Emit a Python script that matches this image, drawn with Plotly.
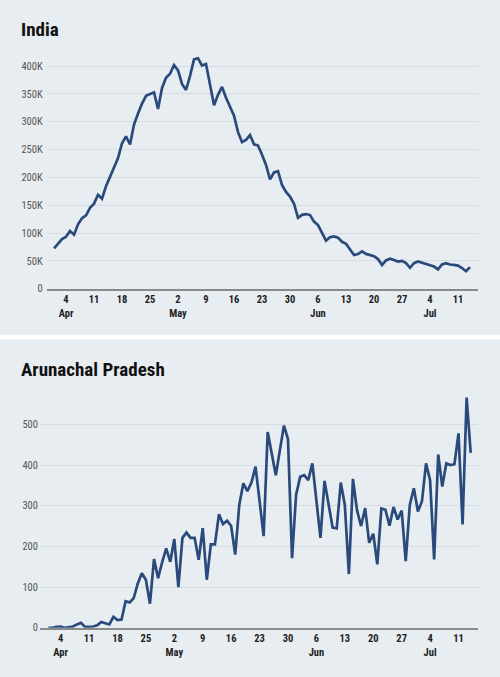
import pandas as pd
import plotly.graph_objs as go

# Tagesdaten 1. April bis 14. Juli 2021
dates = pd.date_range('2021-04-01', '2021-07-14', freq='D')

india_cases = [
    72330, 81466, 89129, 93249, 103558, 96982, 115736, 126789, 131968, 145384,
    152879, 168912, 161736, 184372, 200739, 217353, 234692, 261500, 273810, 259170,
    295041, 314835, 332730, 346786, 349691, 352991, 323144, 360960, 379257, 386452,
    401993, 392488, 368147, 357229, 382315, 412262, 414188, 401078, 403738, 366161,
    329942, 348421, 362727, 343144, 326098, 311170, 281386, 263533, 267334, 276110,
    259551, 257299, 240842, 222315, 196427, 208921, 211298, 186364, 173790, 165553,
    152734,
    127510, 132788, 134154, 132364, 120529, 114460, 100636, 86498, 92596, 94052,
    91702, 84332, 80834, 70421, 60471, 62224, 67208, 62480, 60753, 58419,
    53256, 42640, 50848, 54069, 51667, 48698, 50040, 46148, 37566, 45951,
    48786, 46617, 44111, 43071, 39796, 34703, 43733, 45892, 43393, 42766,
    41506, 37154, 31443, 38792,
]

arunachal_cases = [
    0, 0, 2, 3, 0, 2, 3, 8, 12, 2,
    3, 3, 6, 14, 11, 8, 27, 19, 20, 65,
    62, 73, 109, 134, 118, 59, 169, 122, 161, 195,
    162, 218, 100, 221, 234, 221, 221, 167, 245, 118,
    205, 205, 279, 255, 263, 250, 180, 302, 355, 336,
    357, 396, 312, 225, 481, 428, 375, 436, 497, 464,
    171,
    327, 371, 375, 363, 404, 318, 221, 361, 302, 246,
    244, 357, 302, 132, 366, 289, 250, 294, 209, 231,
    156, 293, 290, 251, 297, 266, 288, 164, 302, 343,
    286, 311, 404, 363, 168, 426, 347, 404, 400, 402,
    478, 254, 566, 430,
]

tick_dates = ['2021-04-04', '2021-04-11', '2021-04-18', '2021-04-25', '2021-05-02',
              '2021-05-09', '2021-05-16', '2021-05-23', '2021-05-30', '2021-06-06',
              '2021-06-13', '2021-06-20', '2021-06-27', '2021-07-04', '2021-07-11']
tick_text = ['4<br>Apr', '11', '18', '25', '2<br>May', '9', '16', '23', '30',
             '6<br>Jun', '13', '20', '27', '4<br>Jul', '11']

india_ticks = [0, 50000, 100000, 150000, 200000, 250000, 300000, 350000, 400000]
india_labels = ['0', '50K', '100K', '150K', '200K', '250K', '300K', '350K', '400K']
arunachal_ticks = [0, 100, 200, 300, 400, 500]

BG = '#e8edf2'
LINE = '#2b4a7c'
GRID = '#d6dce3'
FONT = 'Roboto Condensed, Roboto, sans-serif'

fig = go.Figure()
fig.add_trace(go.Scatter(x=dates, y=india_cases, mode='lines',
                         line=dict(color=LINE, width=2.7), xaxis='x', yaxis='y'))
fig.add_trace(go.Scatter(x=dates, y=arunachal_cases, mode='lines',
                         line=dict(color=LINE, width=2.7), xaxis='x2', yaxis='y2'))

xfont = dict(family=FONT, size=10.5, color='#1e1e1e', weight='bold')
yfont = dict(family=FONT, size=10.5, color='#555555')

# Layout anpassen
fig.update_layout(
    width=500, height=677,
    margin=dict(l=0, r=0, t=0, b=0),
    paper_bgcolor=BG, plot_bgcolor=BG,
    showlegend=False,
    xaxis=dict(domain=[46.7 / 500, 478 / 500], anchor='y', type='date',
               range=['2021-03-30 04:00', '2021-07-16 00:00'],
               tickvals=tick_dates, ticktext=tick_text, ticks='',
               showgrid=False, showline=True, linecolor='#8a8a8a', linewidth=1.5,
               tickfont=xfont),
    yaxis=dict(domain=[(677 - 291.7) / 677, (677 - 50) / 677], anchor='x',
               range=[0, 430000], tickvals=india_ticks, ticktext=india_labels,
               showgrid=True, gridcolor=GRID, gridwidth=1.2, zeroline=False,
               ticks='', tickfont=yfont, ticklabelstandoff=3),
    xaxis2=dict(domain=[40 / 500, 478.3 / 500], anchor='y2', type='date',
                range=['2021-03-29 22:00', '2021-07-15 21:00'],
                tickvals=tick_dates, ticktext=tick_text, ticks='',
                showgrid=False, showline=True, linecolor='#8a8a8a', linewidth=1.5,
                tickfont=xfont),
    yaxis2=dict(domain=[(677 - 634.3) / 677, (677 - 391.8) / 677], anchor='x2',
                range=[0, 590], tickvals=arunachal_ticks,
                showgrid=True, gridcolor=GRID, gridwidth=1.2, zeroline=False,
                ticks='', tickfont=yfont, ticklabelstandoff=1),
)

# Titel
fig.add_annotation(text='India', xref='paper', yref='paper', x=19 / 500, y=(677 - 30) / 677,
                   xanchor='left', yanchor='middle', showarrow=False,
                   font=dict(family=FONT, size=19, color='#111111', weight='bold'))
fig.add_annotation(text='Arunachal Pradesh', xref='paper', yref='paper', x=19 / 500, y=(677 - 373) / 677,
                   xanchor='left', yanchor='middle', showarrow=False,
                   font=dict(family=FONT, size=19, color='#111111', weight='bold'))

# weisser Streifen zwischen den Panels
fig.add_shape(type='rect', xref='paper', yref='paper', x0=0, x1=1,
              y0=(677 - 342.7) / 677, y1=(677 - 338.3) / 677,
              fillcolor='white', line=dict(width=0))

# Seitenrand entfernen
page_js = (
    "document.body.style.margin='0';"
    "document.body.style.overflow='hidden';"
)
fig.write_html('out.html', config={'displayModeBar': False}, post_script=page_js)
